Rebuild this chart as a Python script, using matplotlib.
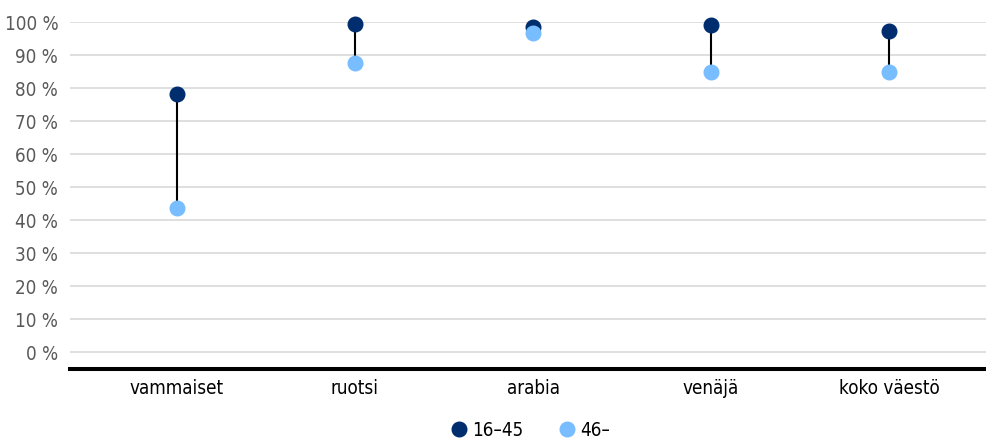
import numpy as np
import matplotlib
matplotlib.use("Agg")
import matplotlib.pyplot as plt
from matplotlib import font_manager

# pick a narrow font if one is installed, else Roboto
narrow = [f.name for f in font_manager.fontManager.ttflist
          if 'Narrow' in f.name or 'Condensed' in f.name or f.stretch in ('condensed', 'semi-condensed')]
stretch = 'normal'
if narrow:
    fam = narrow[0]
    stretch = 'condensed'
    fs = 13.5
else:
    fam = 'Roboto'
    fs = 13
plt.rcParams['font.family'] = [fam, 'DejaVu Sans']
plt.rcParams['font.stretch'] = stretch

# data
categories = ['vammaiset', 'ruotsi', 'arabia', 'venäjä', 'koko väestö']
young = [78.3, 99.3, 98.4, 99.0, 97.4]   # 16–45
old = [43.7, 87.5, 96.8, 85.0, 84.8]     # 46–
series_names = ['16–45', '46–']

dark = '#002d6e'
light = '#78bdff'

fig = plt.figure(figsize=(9.86, 4.42), dpi=100)
ax = fig.add_axes([70/986, 73/442, 916/986, (369-22)/442])

x = np.arange(len(categories))
# connectors
ax.vlines(x, old, young, color='black', lw=1.5, zorder=2)
ax.plot(x, young, 'o', color=dark, ms=10.5, zorder=3, clip_on=False, label=series_names[0])
ax.plot(x, old, 'o', color=light, ms=10.5, zorder=4, clip_on=False, label=series_names[1])

ax.set_ylim(-5, 100)
ax.set_xlim((70-177)/178, (986-177)/178)
ax.set_yticks(np.arange(0, 101, 10))
ax.set_yticklabels([f'{v} %' for v in range(0, 101, 10)], color='#595959', fontsize=fs)
ax.set_xticks(x)
ax.set_xticklabels(categories, fontsize=fs, color='black')
ax.tick_params(length=0, axis='both')
ax.tick_params(axis='y', pad=8.5)
ax.tick_params(axis='x', pad=7)
ax.grid(axis='y', color='#d9d9d9', lw=1.2)
ax.set_axisbelow(True)
for s in ['left', 'right', 'top']:
    ax.spines[s].set_visible(False)
ax.spines['bottom'].set_linewidth(2.9)
ax.spines['bottom'].set_color('black')

fig.legend(loc='center', bbox_to_anchor=(530/986, 1-430/442), ncol=2, frameon=False,
           fontsize=fs, handletextpad=0.2, columnspacing=1.8, markerscale=1.0, handlelength=1.0)

fig.savefig('out.png', dpi=100)
